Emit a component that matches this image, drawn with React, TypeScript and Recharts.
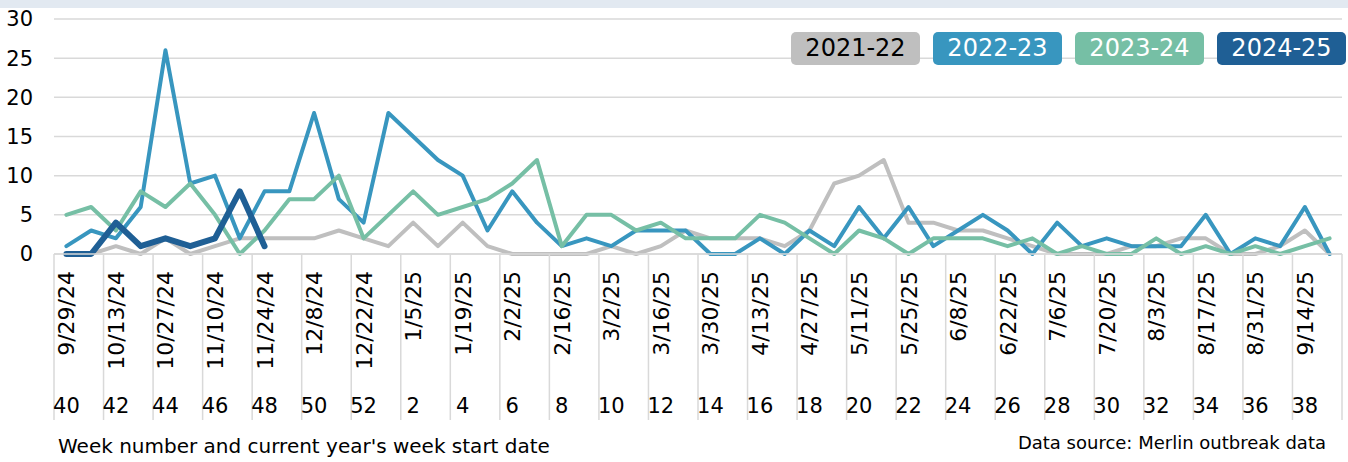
import React from 'react';
import { LineChart, Line, XAxis, YAxis, CartesianGrid, Legend } from 'recharts';

// week numbers, season starts at week 40
const weeks = [
  40, 41, 42, 43, 44, 45, 46, 47, 48, 49, 50, 51, 52,
  1, 2, 3, 4, 5, 6, 7, 8, 9, 10, 11, 12, 13,
  14, 15, 16, 17, 18, 19, 20, 21, 22, 23, 24, 25, 26,
  27, 28, 29, 30, 31, 32, 33, 34, 35, 36, 37, 38, 39,
];

// start dates shown under every other week
const dateLabels = [
  '9/29/24', '10/13/24', '10/27/24', '11/10/24', '11/24/24', '12/8/24', '12/22/24',
  '1/5/25', '1/19/25', '2/2/25', '2/16/25', '3/2/25', '3/16/25', '3/30/25',
  '4/13/25', '4/27/25', '5/11/25', '5/25/25', '6/8/25', '6/22/25', '7/6/25',
  '7/20/25', '8/3/25', '8/17/25', '8/31/25', '9/14/25',
];

const s2122 = [
  0, 0, 1, 0, 2, 0, 1, 2, 2, 2, 2, 3, 2,
  1, 4, 1, 4, 1, 0, 0, 0, 0, 1, 0, 1, 3,
  2, 2, 2, 1, 3, 9, 10, 12, 4, 4, 3, 3, 2,
  1, 0, 0, 0, 1, 1, 2, 2, 0, 0, 1, 3, 0,
];
const s2223 = [
  1, 3, 2, 6, 26, 9, 10, 2, 8, 8, 18, 7, 4,
  18, 15, 12, 10, 3, 8, 4, 1, 2, 1, 3, 3, 3,
  0, 0, 2, 0, 3, 1, 6, 2, 6, 1, 3, 5, 3,
  0, 4, 1, 2, 1, 1, 1, 5, 0, 2, 1, 6, 0,
];
const s2324 = [
  5, 6, 3, 8, 6, 9, 5, 0, 3, 7, 7, 10, 2,
  5, 8, 5, 6, 7, 9, 12, 1, 5, 5, 3, 4, 2,
  2, 2, 5, 4, 2, 0, 3, 2, 0, 2, 2, 2, 1,
  2, 0, 1, 0, 0, 2, 0, 1, 0, 1, 0, 1, 2,
];
const s2425 = [0, 0, 4, 1, 2, 1, 2, 8, 1];

const yTicks = [0, 5, 10, 15, 20, 25, 30];

const data = weeks.map((w, i) => ({
  week: w,
  '2021-22': s2122[i],
  '2022-23': s2223[i],
  '2023-24': s2324[i],
  '2024-25': i < s2425.length ? s2425[i] : null,
}));

const W = 1348;
const H = 462;
const Y_AXIS_W = 54;
const RIGHT = 6;
const X_AXIS_H = 208;
const AXIS_Y = H - X_AXIS_H;
const BAND = (W - Y_AXIS_W - RIGHT) / weeks.length;
const FONT = '"DejaVu Sans", sans-serif';
const GRID = '#d9d9d9';

const colors: Record<string, string> = {
  '2021-22': '#bfbfbf',
  '2022-23': '#3896bf',
  '2023-24': '#76bfa5',
  '2024-25': '#1f5f95',
};

const WeekTick = (props: any) => {
  const { x, index, payload } = props;
  const shown = index % 2 === 0;
  return (
    <g>
      {shown && (
        <line x1={x - BAND / 2} x2={x - BAND / 2} y1={AXIS_Y} y2={420} stroke={GRID} strokeWidth={1.5} />
      )}
      {index === weeks.length - 1 && (
        <line x1={x + BAND / 2} x2={x + BAND / 2} y1={AXIS_Y} y2={420} stroke={GRID} strokeWidth={1.5} />
      )}
      {shown && (
        <text
          transform={`translate(${x + 8},271) rotate(-90)`}
          textAnchor="end"
          fontSize={22}
          fontFamily={FONT}
          fill="#000"
        >
          {dateLabels[index / 2]}
        </text>
      )}
      {shown && (
        <text x={x} y={413} textAnchor="middle" fontSize={21} fontFamily={FONT} fill="#000">
          {payload.value}
        </text>
      )}
    </g>
  );
};

const LegendBadges = (props: any) => {
  const items = props.payload || [];
  return (
    <div style={{ display: 'flex', gap: 13 }}>
      {items.map((it: any) => (
        <div
          key={it.value}
          style={{
            width: 129,
            height: 33,
            borderRadius: 5,
            background: it.color,
            color: it.value === '2021-22' ? '#000' : '#fff',
            fontFamily: FONT,
            fontSize: 24,
            lineHeight: '33px',
            textAlign: 'center',
          }}
        >
          {it.value}
        </div>
      ))}
    </div>
  );
};

export default function App() {
  return (
    <div style={{ position: 'absolute', left: 0, top: 0, width: W, height: H, background: '#fff' }}>
      <div style={{ position: 'absolute', left: 0, top: 0, width: W, height: 8, background: '#e2e9f1' }} />
      <LineChart width={W} height={H} data={data} margin={{ top: 19, right: RIGHT, left: 0, bottom: 0 }}>
        <CartesianGrid vertical={false} stroke={GRID} strokeWidth={1.5} />
        <XAxis
          dataKey="week"
          height={X_AXIS_H}
          interval={0}
          padding={{ left: BAND / 2, right: BAND / 2 }}
          tickLine={false}
          axisLine={{ stroke: GRID, strokeWidth: 1.5 }}
          tick={<WeekTick />}
        />
        <YAxis
          width={Y_AXIS_W}
          domain={[0, 30]}
          ticks={yTicks}
          axisLine={false}
          tickLine={false}
          tickMargin={15}
          tick={{ fontSize: 21, fontFamily: FONT, fill: '#000' }}
        />
        <Legend
          layout="horizontal"
          verticalAlign="middle"
          align="center"
          content={<LegendBadges />}
          wrapperStyle={{ top: 32, left: 791, width: 560, height: 33 }}
        />
        {Object.keys(colors).map((k) => (
          <Line
            key={k}
            type="linear"
            dataKey={k}
            stroke={colors[k]}
            strokeWidth={k === '2024-25' ? 6 : 4}
            strokeLinejoin="round"
            strokeLinecap="round"
            dot={false}
            activeDot={false}
            isAnimationActive={false}
          />
        ))}
      </LineChart>
      <div style={{ position: 'absolute', left: 58, top: 434, fontFamily: FONT, fontSize: 20, color: '#000', whiteSpace: 'nowrap' }}>
        Week number and current year's week start date
      </div>
      <div style={{ position: 'absolute', right: 22, top: 432, fontFamily: FONT, fontSize: 18, color: '#000', whiteSpace: 'nowrap' }}>
        Data source: Merlin outbreak data
      </div>
    </div>
  );
}
